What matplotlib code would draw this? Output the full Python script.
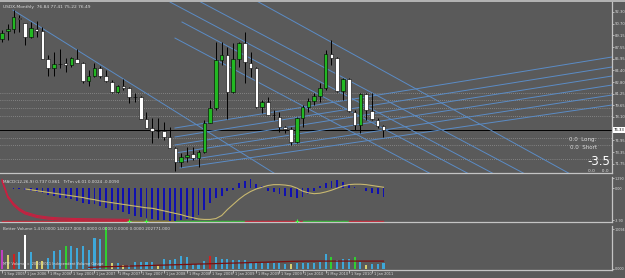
import numpy as np
import matplotlib.pyplot as plt

# ---- main chart (USDX monthly, Sep 2005 .. Mar 2011) ----
title = "USDX,Monthly  76.84 77.41 75.22 76.49"
opens = [88.63, 89.71, 89.98, 91.47, 90.79, 88.90, 89.98, 89.71, 85.93, 84.71,
         85.25, 85.39, 85.12, 85.93, 85.39, 82.95, 83.63, 84.71, 83.63, 82.82,
         81.47, 82.28, 82.01, 80.79, 80.75, 77.82, 76.60, 76.20, 76.20, 75.39,
         73.90, 72.01, 72.68, 73.09, 72.55, 73.36, 77.28, 79.31, 85.79, 86.47,
         81.47, 85.93, 88.09, 85.39, 84.71, 79.44, 80.12, 78.36, 78.09, 76.74,
         76.47, 74.71, 77.95, 79.44, 80.25, 80.93, 82.01, 86.60, 86.06, 81.60,
         83.22, 78.76, 77.01, 81.20, 78.90, 77.68, 76.87]
highs = [89.85, 90.66, 92.55, 91.87, 90.79, 90.93, 91.06, 90.25, 86.47, 86.87,
         87.28, 86.06, 86.20, 87.28, 85.52, 84.44, 85.39, 84.98, 84.44, 83.09,
         82.41, 83.22, 82.14, 81.33, 80.93, 78.76, 77.95, 77.95, 77.41, 76.74,
         74.04, 73.22, 74.04, 74.04, 73.63, 77.68, 80.39, 88.22, 88.22, 87.55,
         88.09, 88.22, 89.58, 86.87, 84.85, 80.39, 80.79, 79.04, 78.76, 76.87,
         76.74, 78.09, 79.71, 80.66, 81.33, 82.68, 87.14, 88.49, 86.20, 83.36,
         83.36, 79.04, 81.33, 81.33, 81.33, 77.95, 77.01]
lows = [88.22, 88.49, 89.44, 89.58, 87.82, 88.76, 88.90, 85.93, 83.63, 83.63,
        84.71, 84.17, 84.85, 85.39, 82.68, 82.28, 83.49, 83.36, 82.82, 81.33,
        81.33, 81.74, 79.98, 80.12, 77.82, 76.60, 74.58, 75.25, 74.98, 73.90,
        70.79, 71.33, 72.01, 72.28, 71.33, 73.22, 77.28, 79.04, 85.12, 77.82,
        81.33, 84.85, 82.68, 83.49, 79.31, 78.63, 78.36, 77.68, 76.06, 75.93,
        74.31, 74.58, 76.74, 78.76, 79.71, 80.12, 81.74, 85.12, 81.47, 80.39,
        78.76, 76.33, 75.93, 77.68, 77.68, 76.60, 75.39]
closes = [89.44, 89.98, 91.60, 91.33, 88.90, 90.12, 89.71, 85.93, 84.71, 85.25,
          85.30, 85.12, 86.06, 85.39, 82.95, 83.63, 84.71, 83.63, 82.95, 81.47,
          82.28, 82.01, 80.79, 80.75, 77.82, 76.60, 76.20, 76.25, 75.39, 73.90,
          72.01, 72.68, 72.95, 72.55, 73.36, 77.28, 79.31, 85.79, 86.47, 81.47,
          85.93, 88.09, 85.52, 84.71, 79.44, 80.12, 78.36, 78.30, 76.74, 76.47,
          74.71, 77.95, 79.44, 80.25, 80.93, 82.01, 86.60, 86.06, 81.60, 83.22,
          78.90, 77.01, 81.20, 79.04, 77.82, 76.87, 76.33]

price_ticks = [92.30, 90.70, 89.15, 87.55, 85.95, 84.40, 82.80, 81.25, 79.65,
               78.10, 76.50, 74.95, 73.35, 71.75]
hlines_dotted = [81.33, 80.39, 79.31, 78.22, 75.25, 74.31, 72.41]
bid_line = 76.33

# trend lines: (month index, price) anchors
down_lines = [((1.90, 92.55), (47.58, 70.25)),
              ((29.07, 93.63), (85.47, 70.25)),
              ((33.74, 93.90), (90.83, 70.25)),
              ((31.14, 90.93), (81.14, 70.25)),
              ((29.93, 88.76), (74.57, 70.25)),
              ((43.77, 93.90), (98.62, 70.25))]
up_lines = [((29.93, 76.60), (105.54, 86.20)),
            ((29.93, 75.39), (105.54, 84.85)),
            ((29.93, 74.31), (105.54, 83.63)),
            ((29.93, 73.22), (105.54, 82.41)),
            ((29.93, 72.01), (105.54, 81.06)),
            ((30.80, 71.20), (105.54, 79.71))]

# ---- MACD window ----
macd_title = "MACD(12,26,9) 0.737 0.861   TrTm v6.01 0.0024 -0.0090"
macd_hist = [np.nan, np.nan, -0.1, -0.1, -0.2, -0.3, -0.4, -0.6, -0.8, -0.9,
             -1.1, -1.1, -1.3, -1.5, -1.7, -1.9, -1.9, -2.1, -2.3, -2.5,
             -2.6, -2.8, -3.0, -3.2, -3.4, -3.5, -3.6, -3.7, -3.7, -3.8,
             -3.8, -3.7, -3.6, -3.7, -3.1, -2.5, -1.7, -1.1, -0.9, -0.3,
             -0.2, 0.6, 0.8, 1.0, 0.5, 0.2, -0.3, -0.5, -0.7, -0.9,
             -1.0, -1.1, -1.0, -0.7, -0.3, 0.2, 0.6, 0.8, 0.9, 0.7,
             0.4, 0.1, 0.05, -0.3, -0.6, -0.7, -1.0]
macd_signal = [np.nan, np.nan, np.nan, np.nan, -0.1, -0.2, -0.3, -0.4, -0.5, -0.6,
               -0.7, -0.8, -0.9, -1.0, -1.1, -1.25, -1.35, -1.5, -1.6, -1.7,
               -1.8, -1.9, -2.0, -2.1, -2.2, -2.3, -2.35, -2.5, -2.65, -2.8,
               -2.95, -3.1, -3.3, -3.45, -3.6, -3.65, -3.65, -3.55, -3.2, -2.5,
               -1.9, -1.3, -0.8, -0.4, -0.1, 0.1, 0.3, 0.4, 0.4, 0.35,
               0.25, 0.0, -0.35, -0.55, -0.65, -0.6, -0.45, -0.25, 0.0, 0.25,
               0.4, 0.45, 0.45, 0.4, 0.3, 0.2, 0.1]
red_curve = [0.9, -1.0, -1.9, -2.5, -2.9, -3.1, -3.3, -3.4, -3.5, -3.55,
             -3.6, -3.62, -3.65, -3.67, -3.68, -3.7, -3.71, -3.72, -3.73, -3.74,
             -3.75, -3.76, -3.77]
trend_state = list("rrrrrrrrrrrrrrrrrrrrrr" "oooooooo" "gggggggggggg"
                   "rrrrrrrrrr" "gggggggg" "rrrrrrr")
cross_marks = [22, 25, 51]

# ---- volume window ----
vol_title = "Better Volume 1.4 0.0000 142227.000 0.0000 0.0000 0.0000 0.0000 202771.000"
volume = [456, 336, 360, 408, 816, 408, 192, 192, 264, 432,
          456, 552, 552, 504, 552, 456, 744, 720, 1008, 144,
          144, 96, 96, 168, 168, 168, 168, 72, 240, 216,
          240, 312, 288, 120, 120, 192, 312, 288, 240, 240,
          216, 216, 216, 144, 144, 144, 144, 144, 144, 120,
          120, 144, 144, 144, 144, 168, 360, 288, 216, 240,
          240, 288, 168, 96, 120, 120, 144]
vol_kind = list("myrbwbyybbbgbbbbbbgybybbbbbybbbbbbbbrbbbbbbbbbbbbbybbbbbbgbbbgbybbb")
vol_ma = [40, 45, 50, 55, 58, 62, 66, 70, 74, 78, 82, 86, 90, 94, 98, 102,
          106, 110, 114, 118, 122, 126, 130, 134, 138, 142, 146, 150, 154, 158,
          162, 166, 170, 174, 178, 182, 186, 188, 190, 190, 190, 190, 190, 190,
          190, 190, 190, 190, 190, 190, 190, 190]
date_labels = ["1 Sep 2005", "1 Jan 2006", "1 May 2006", "1 Sep 2006", "1 Jan 2007",
               "1 May 2007", "1 Sep 2007", "1 Jan 2008", "1 May 2008", "1 Sep 2008",
               "1 Jan 2009", "1 May 2009", "1 Sep 2009", "1 Jan 2010", "1 May 2010",
               "1 Sep 2010", "1 Jan 2011"]

bg = "#5a5a5a"
sep = "#c4c4c4"
txt = "#dcdcdc"
blue_line = "#5a8cc6"
vol_colors = {"m": "#c040c0", "y": "#d8d070", "r": "#d02020", "b": "#3ea8da",
              "w": "#ffffff", "g": "#30d030"}
state_colors = {"r": "#c02030", "o": "#8a7a30", "g": "#30b030"}

n = len(opens)
x = np.arange(n)
xlim = (-0.346, 105.54)

fig = plt.figure(figsize=(6.25, 2.78), dpi=100, facecolor=bg)
ax = fig.add_axes([0, 0.3777, 0.9792, 0.615], facecolor=bg)
ax2 = fig.add_axes([0, 0.2014, 0.9792, 0.1619], facecolor=bg)
ax3 = fig.add_axes([0, 0.0288, 0.9792, 0.158], facecolor=bg)

for a in (ax, ax2, ax3):
    a.set_xlim(*xlim)
    for s in ("left", "top"):
        a.spines[s].set_visible(False)
    for s in ("right", "bottom"):
        a.spines[s].set_color(sep)
        a.spines[s].set_linewidth(0.9)
    a.yaxis.tick_right()
    a.tick_params(axis="y", colors=txt, labelsize=2.7, length=1.2, width=0.5, pad=0.6)
    a.tick_params(axis="x", length=0, labelbottom=False)

# main window
ax.set_ylim(70.52, 93.63)
for p in hlines_dotted:
    ax.axhline(p, color="#a8a8a8", lw=0.5, ls=(0, (1, 2)), zorder=1)
ax.axhline(bid_line, color="black", lw=0.7, zorder=1)
for (p0, p1) in down_lines + up_lines:
    ax.plot([p0[0], p1[0]], [p0[1], p1[1]], color=blue_line, lw=0.7, zorder=2)

o = np.array(opens); c = np.array(closes)
ax.vlines(x, lows, highs, color="black", lw=0.7, zorder=3)
up = c >= o
ax.bar(x[up], (c - o)[up], bottom=o[up], width=0.62, color="#22b822",
       edgecolor="black", lw=0.4, zorder=4)
ax.bar(x[~up], (o - c)[~up], bottom=c[~up], width=0.62, color="white",
       edgecolor="black", lw=0.4, zorder=4)
ax.set_yticks(price_ticks)
ax.set_yticklabels([f"{t:.2f}" for t in price_ticks])
ax.text(0.005, 0.985, title, transform=ax.transAxes, fontsize=3.2, color=txt,
        va="top", ha="left")
ax.text(1.003, (bid_line - 70.52) / (93.63 - 70.52), f"{bid_line:.2f}",
        transform=ax.transAxes, fontsize=2.7, color="black", va="center",
        ha="left", bbox=dict(boxstyle="square,pad=0.15", fc="white", ec="none"),
        clip_on=False)
ax.text(0.975, 0.195, "0.0  Long:", transform=ax.transAxes, fontsize=4,
        color=txt, ha="right", va="center")
ax.text(0.975, 0.148, "0.0  Short", transform=ax.transAxes, fontsize=4,
        color=txt, ha="right", va="center")
ax.text(0.997, 0.065, "-3.5", transform=ax.transAxes, fontsize=8.5,
        color="white", ha="right", va="center")
ax.text(0.995, 0.012, "0.0     0.0", transform=ax.transAxes, fontsize=3.2,
        color=txt, ha="right", va="center")

# MACD window
ax2.set_ylim(-3.95, 1.29)
ax2.bar(x, macd_hist, width=0.32, color="#1010b0", zorder=3)
ax2.plot(x, macd_signal, color="#c8b870", lw=0.8, zorder=4)
rx = np.arange(len(red_curve))
for off in (-0.12, 0.0, 0.12):
    ax2.plot(rx, np.array(red_curve) + off, color="#c82040", lw=0.8, zorder=2)
for i in range(n - 1):
    ax2.plot([i, i + 1], [-3.85, -3.85], color=state_colors[trend_state[i]],
             lw=1.0, zorder=2)
ax2.plot(cross_marks, [-3.85] * len(cross_marks), "+", color="#40ff40", ms=3,
         mew=0.7, zorder=5)
ax2.set_yticks([1.15, 0.0, -3.75])
ax2.set_yticklabels(["1.290", "0.00", "-3.90"], fontsize=2.4)
ax2.text(0.005, 0.93, macd_title, transform=ax2.transAxes, fontsize=3.0,
         color=txt, va="top", ha="left")

# volume window
ax3.set_ylim(-24, 1032)
ax3.bar(x, volume, width=0.36, color=[vol_colors[k] for k in vol_kind], zorder=3)
ax3.plot(np.arange(15, 15 + len(vol_ma)), vol_ma, color="#7a1010", lw=0.9, zorder=4)
ax3.set_yticks([960, 0])
ax3.set_yticklabels(["10094", "0.000"], fontsize=2.4)
ax3.text(0.005, 0.97, vol_title, transform=ax3.transAxes, fontsize=3.0,
         color=txt, va="top", ha="left")
ax3.text(0.005, 0.08, "MTF Volume  c  2010 2011 Independent Volume Gauge",
         transform=ax3.transAxes, fontsize=2.6, color=txt, va="bottom", ha="left")
tick_pos = np.arange(0, 4 * len(date_labels), 4)
ax3.set_xticks(tick_pos)
ax3.tick_params(axis="x", length=2, width=0.5, color=txt, labelbottom=False)
for tp, lab in zip(tick_pos, date_labels):
    ax3.text(tp + 0.3, -0.05, lab, transform=ax3.get_xaxis_transform(),
             fontsize=2.6, color=txt, ha="left", va="top", clip_on=False)

fig.add_artist(plt.Line2D([0, 1], [0.996, 0.996], color=sep, lw=1.2))
fig.savefig("out.png", dpi=100, facecolor=bg)
